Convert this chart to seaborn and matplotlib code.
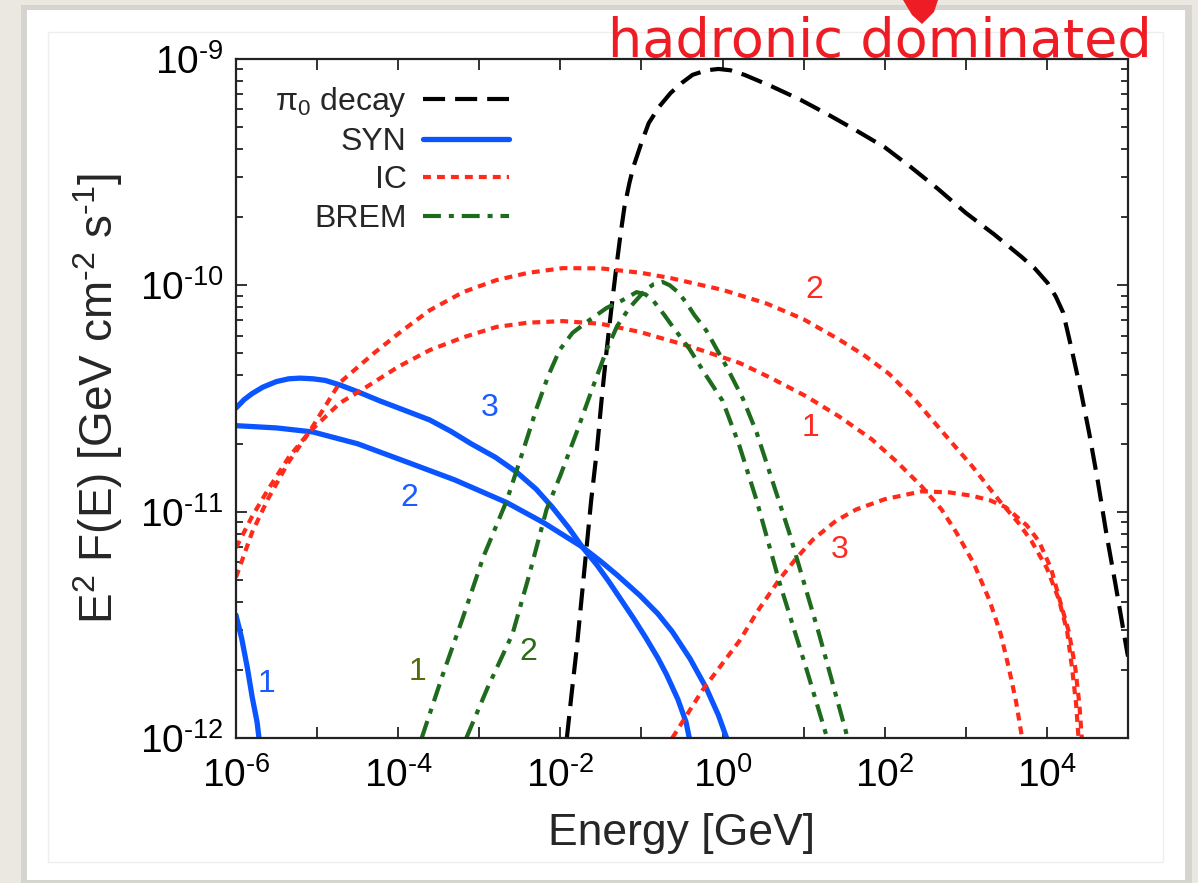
import numpy as np
import pandas as pd
import matplotlib
matplotlib.use("Agg")
import matplotlib.pyplot as plt
import seaborn as sns
from matplotlib.lines import Line2D
from matplotlib.patches import Rectangle, Polygon
from matplotlib.ticker import FixedLocator, FuncFormatter, LogLocator, NullFormatter

# valeurs : log10(E / GeV) et log10(E^2 F(E) / GeV cm^-2 s^-1)
pi0_logE = [-1.92, -1.86, -1.80, -1.74, -1.68, -1.62, -1.55, -1.49, -1.43, -1.37, -1.31, -1.26, -1.21,
            -1.15, -1.10, -1.0, -0.91, -0.78, -0.64, -0.5, -0.37, -0.2, -0.05, 0.1, 0.27, 0.6, 0.96,
            1.3, 1.64, 2.0, 2.32, 2.66, 3.0, 3.35, 3.69, 3.85, 4.01, 4.11, 4.20, 4.31, 4.42, 4.52,
            4.63, 4.73, 4.85, 4.97, 5.0]
pi0_logF = [-12.0, -11.8, -11.61, -11.39, -11.17, -10.95, -10.73, -10.5, -10.29, -10.1, -9.92, -9.78,
            -9.654, -9.55, -9.477, -9.37, -9.283, -9.21, -9.15, -9.105, -9.07, -9.05, -9.044, -9.05,
            -9.07, -9.12, -9.18, -9.245, -9.314, -9.39, -9.477, -9.575, -9.68, -9.775, -9.875, -9.925,
            -9.99, -10.05, -10.12, -10.29, -10.47, -10.65, -10.87, -11.09, -11.33, -11.58, -11.64]

syn1_logE = [-6.0, -5.93, -5.86, -5.80, -5.74, -5.70]
syn1_logF = [-11.457, -11.56, -11.69, -11.82, -11.93, -12.05]

syn2_logE = [-6.0, -5.5, -5.05, -4.5, -3.86, -3.3, -2.66, -2.2, -1.73, -1.5, -1.3, -1.02, -0.8, -0.62,
             -0.4, -0.2, -0.05, 0.05, 0.08]
syn2_logF = [-10.62, -10.63, -10.648, -10.70, -10.785, -10.86, -10.96, -11.05, -11.156, -11.22, -11.28,
             -11.37, -11.45, -11.53, -11.65, -11.78, -11.90, -12.0, -12.05]

syn3_logE = [-6.0, -5.9, -5.8, -5.67, -5.5, -5.35, -5.21, -5.05, -4.9, -4.72, -4.5, -4.23, -3.9, -3.61,
             -3.35, -3.1, -2.8, -2.54, -2.3, -2.1, -1.9, -1.73, -1.55, -1.4, -1.25, -1.1, -0.95, -0.8,
             -0.69, -0.55, -0.45, -0.41, -0.38]
syn3_logF = [-10.542, -10.505, -10.478, -10.45, -10.425, -10.413, -10.41, -10.413, -10.42, -10.44,
             -10.47, -10.51, -10.555, -10.595, -10.645, -10.70, -10.76, -10.825, -10.90, -10.98, -11.07,
             -11.156, -11.235, -11.31, -11.39, -11.47, -11.555, -11.645, -11.72, -11.83, -11.93, -12.0,
             -12.05]

ic1_logE = [-6.0, -5.8, -5.6, -5.35, -5.1, -4.72, -4.44, -4.0, -3.61, -3.2, -2.79, -2.4, -1.97, -1.5,
            -1.02, -0.4, 0.21, 0.6, 1.03, 1.44, 1.84, 2.15, 2.46, 2.7, 2.88, 3.1, 3.29, 3.43, 3.53, 3.62,
            3.68, 3.72]
ic1_logF = [-11.16, -11.02, -10.90, -10.76, -10.65, -10.52, -10.46, -10.36, -10.286, -10.23, -10.184,
            -10.165, -10.158, -10.17, -10.206, -10.27, -10.343, -10.41, -10.49, -10.58, -10.68, -10.78,
            -10.89, -10.99, -11.09, -11.23, -11.39, -11.54, -11.69, -11.84, -11.97, -12.05]

ic2_logE = [-6.0, -5.8, -5.6, -5.35, -5.1, -4.72, -4.3, -3.95, -3.61, -3.2, -2.79, -2.4, -1.97, -1.5,
            -1.0, -0.64, 0.0, 0.54, 1.0, 1.44, 1.75, 2.05, 2.36, 2.67, 3.08, 3.41, 3.65, 3.81, 4.0, 4.15,
            4.25, 4.31, 4.36, 4.39, 4.41]
ic2_logF = [-11.29, -11.09, -10.94, -10.78, -10.65, -10.43, -10.30, -10.2, -10.11, -10.03, -9.977,
            -9.945, -9.924, -9.925, -9.945, -9.968, -10.02, -10.08, -10.15, -10.24, -10.31, -10.39,
            -10.50, -10.63, -10.80, -10.95, -11.05, -11.13, -11.25, -11.39, -11.53, -11.69, -11.85,
            -12.0, -12.05]

ic3_logE = [-0.62, -0.25, 0.21, 0.45, 0.70, 0.9, 1.11, 1.40, 1.65, 2.0, 2.46, 2.8, 3.08, 3.3, 3.49,
            3.75, 3.90, 4.05, 4.15, 4.27, 4.35, 4.40, 4.43, 4.45]
ic3_logF = [-12.0, -11.79, -11.57, -11.43, -11.30, -11.21, -11.125, -11.04, -10.99, -10.945, -10.91,
            -10.915, -10.93, -10.95, -10.98, -11.06, -11.13, -11.25, -11.38, -11.53, -11.69, -11.85,
            -12.0, -12.05]

brem1_logE = [-3.71, -3.45, -3.2, -2.95, -2.66, -2.45, -2.29, -2.15, -2.01, -1.85, -1.64, -1.43, -1.23,
              -1.06, -0.95, -0.85, -0.72, -0.62, -0.41, -0.2, 0.0, 0.2, 0.42, 0.70, 1.03, 1.29, 1.32]
brem1_logF = [-12.0, -11.72, -11.466, -11.2, -10.95, -10.72, -10.54, -10.40, -10.286, -10.21, -10.153,
              -10.10, -10.065, -10.03, -10.04, -10.07, -10.13, -10.18, -10.28, -10.40, -10.51, -10.70,
              -10.95, -11.31, -11.69, -12.0, -12.05]

brem2_logE = [-3.16, -2.9, -2.59, -2.4, -2.17, -2.0, -1.8, -1.6, -1.43, -1.3, -1.15, -0.95, -0.85,
              -0.74, -0.65, -0.55, -0.45, -0.35, -0.2, 0.05, 0.25, 0.42, 0.82, 1.19, 1.52, 1.55]
brem2_logF = [-12.0, -11.78, -11.54, -11.3, -10.99, -10.84, -10.65, -10.45, -10.286, -10.18, -10.10,
              -10.02, -9.995, -9.985, -10.0, -10.03, -10.075, -10.13, -10.20, -10.36, -10.50, -10.65,
              -11.09, -11.54, -11.97, -12.02]

legend_labels = ["π$_0$ decay", "SYN", "IC", "BREM"]

# etiquettes des courbes : (texte, log10 E, log10 F, couleur)
curve_tags = [
    ("3", -2.87, -10.54, "#1a5cff"),
    ("2", -3.86, -10.94, "#1a5cff"),
    ("1", -5.62, -11.76, "#1a5cff"),
    ("1", -3.76, -11.71, "#556b10"),
    ("2", -2.40, -11.62, "#2d6b1a"),
    ("2", 1.13, -10.02, "#ff2a22"),
    ("1", 1.09, -10.63, "#ff2a22"),
    ("3", 1.44, -11.17, "#ff2a22"),
]

BLACK, BLUE, RED, GREEN = "#000000", "#0a55ff", "#ff2a1a", "#1e6b1e"
style_pi0 = dict(color=BLACK, lw=3.0, linestyle=(0, (5.3, 2.4)))
style_syn = dict(color=BLUE, lw=3.8, linestyle="-")
style_ic = dict(color=RED, lw=3.0, linestyle=(0, (1.9, 1.45)))
style_brem = dict(color=GREEN, lw=3.0, linestyle=(0, (4.3, 1.9, 1.2, 1.9)))

sns.set_style("ticks")
plt.rcParams["font.family"] = ["Liberation Sans", "DejaVu Sans"]
plt.rcParams["mathtext.fontset"] = "custom"
plt.rcParams["mathtext.rm"] = "Liberation Sans"
plt.rcParams["mathtext.it"] = "Liberation Sans:italic"
plt.rcParams["mathtext.bf"] = "Liberation Sans:bold"

HY = "\u2010"  # trait d'union court comme dans l'original

W, H = 1198, 883
fig = plt.figure(figsize=(W / 100, H / 100), dpi=100)
fig.patch.set_facecolor("#ebe8e1")

# carte blanche avec ombre
fig.add_artist(Rectangle((21 / W, 1 - 883 / H), 1171 / W, 878 / H, transform=fig.transFigure,
                         facecolor="#c9c7c2", edgecolor="none", alpha=0.6, zorder=-12))
fig.add_artist(Rectangle((27 / W, 1 - 880 / H), 1158 / W, 870 / H, transform=fig.transFigure,
                         facecolor="white", edgecolor="none", zorder=-11))
fig.add_artist(Rectangle((48 / W, 1 - 862 / H), 1115 / W, 830 / H, transform=fig.transFigure,
                         facecolor="none", edgecolor="#eeeeee", lw=1, zorder=-10))

ax = fig.add_axes([236 / W, 1 - 738 / H, 892 / W, 679 / H])
ax.set_xscale("log")
ax.set_yscale("log")

curves = [
    (pi0_logE, pi0_logF, style_pi0),
    (syn1_logE, syn1_logF, style_syn),
    (syn2_logE, syn2_logF, style_syn),
    (syn3_logE, syn3_logF, style_syn),
    (ic1_logE, ic1_logF, style_ic),
    (ic2_logE, ic2_logF, style_ic),
    (ic3_logE, ic3_logF, style_ic),
    (brem1_logE, brem1_logF, style_brem),
    (brem2_logE, brem2_logF, style_brem),
]
for logE, logF, st in curves:
    df = pd.DataFrame({"E": 10 ** np.array(logE), "F": 10 ** np.array(logF)})
    sns.lineplot(data=df, x="E", y="F", ax=ax, sort=False, estimator=None, **st)

ax.set_xlim(1e-6, 1e5)
ax.set_ylim(1e-12, 1e-9)


def pow_label(v):
    k = int(round(np.log10(v)))
    s = str(k).replace("-", HY)
    return r"$\mathregular{10^{%s}}$" % s


ax.xaxis.set_major_locator(FixedLocator([10.0 ** k for k in range(-6, 6)]))
ax.xaxis.set_major_formatter(FuncFormatter(
    lambda v, p: pow_label(v) if int(round(np.log10(v))) % 2 == 0 else ""))
ax.xaxis.set_minor_locator(FixedLocator([]))
ax.yaxis.set_major_locator(FixedLocator([1e-12, 1e-11, 1e-10, 1e-9]))
ax.yaxis.set_major_formatter(FuncFormatter(lambda v, p: pow_label(v)))
ax.yaxis.set_minor_locator(LogLocator(base=10, subs=np.arange(2, 10), numticks=20))
ax.yaxis.set_minor_formatter(NullFormatter())

ax.tick_params(which="both", direction="in", top=True, right=True, width=1.3, colors="#222222")
ax.tick_params(which="major", length=8, labelsize=28, labelcolor="black")
ax.tick_params(axis="x", which="major", pad=14)
ax.tick_params(axis="y", which="major", pad=9)
ax.tick_params(which="minor", length=5)
for s in ax.spines.values():
    s.set_linewidth(1.6)
    s.set_color("#222222")

ax.set_xlabel("Energy [GeV]", fontsize=32)
ax.set_ylabel("E$^{2}$ F(E) [GeV cm$^{%s2}$ s$^{%s1}$]" % (HY, HY), fontsize=33)
ax.xaxis.set_label_coords(0.5, -0.11)
ax.yaxis.set_label_coords(-0.124, 0.5)

handles = [Line2D([], [], **st) for st in (style_pi0, style_syn, style_ic, style_brem)]
ax.legend(handles, legend_labels, loc="upper right", bbox_to_anchor=(0.306, 0.962), frameon=False,
          markerfirst=False, fontsize=23, handlelength=2.7, handletextpad=0.5, labelspacing=0.26,
          borderpad=0, borderaxespad=0)

for txt, le, lf, col in curve_tags:
    ax.text(10 ** le, 10 ** lf, txt, color=col, fontsize=23, ha="center", va="center")

fig.text(880 / W, 1 - 57 / H, "hadronic dominated", color="#ee1c24", fontsize=39,
         family="DejaVu Sans", ha="center", va="baseline")
fig.add_artist(Polygon([(903 / W, 1.0), (938 / W, 1.0), (934 / W, 1 - 12 / H), (922 / W, 1 - 24 / H),
                        (912 / W, 1 - 15 / H)], closed=True, transform=fig.transFigure,
                       facecolor="#ee1c24", edgecolor="none"))

fig.savefig("out.png", dpi=100, facecolor=fig.get_facecolor())
